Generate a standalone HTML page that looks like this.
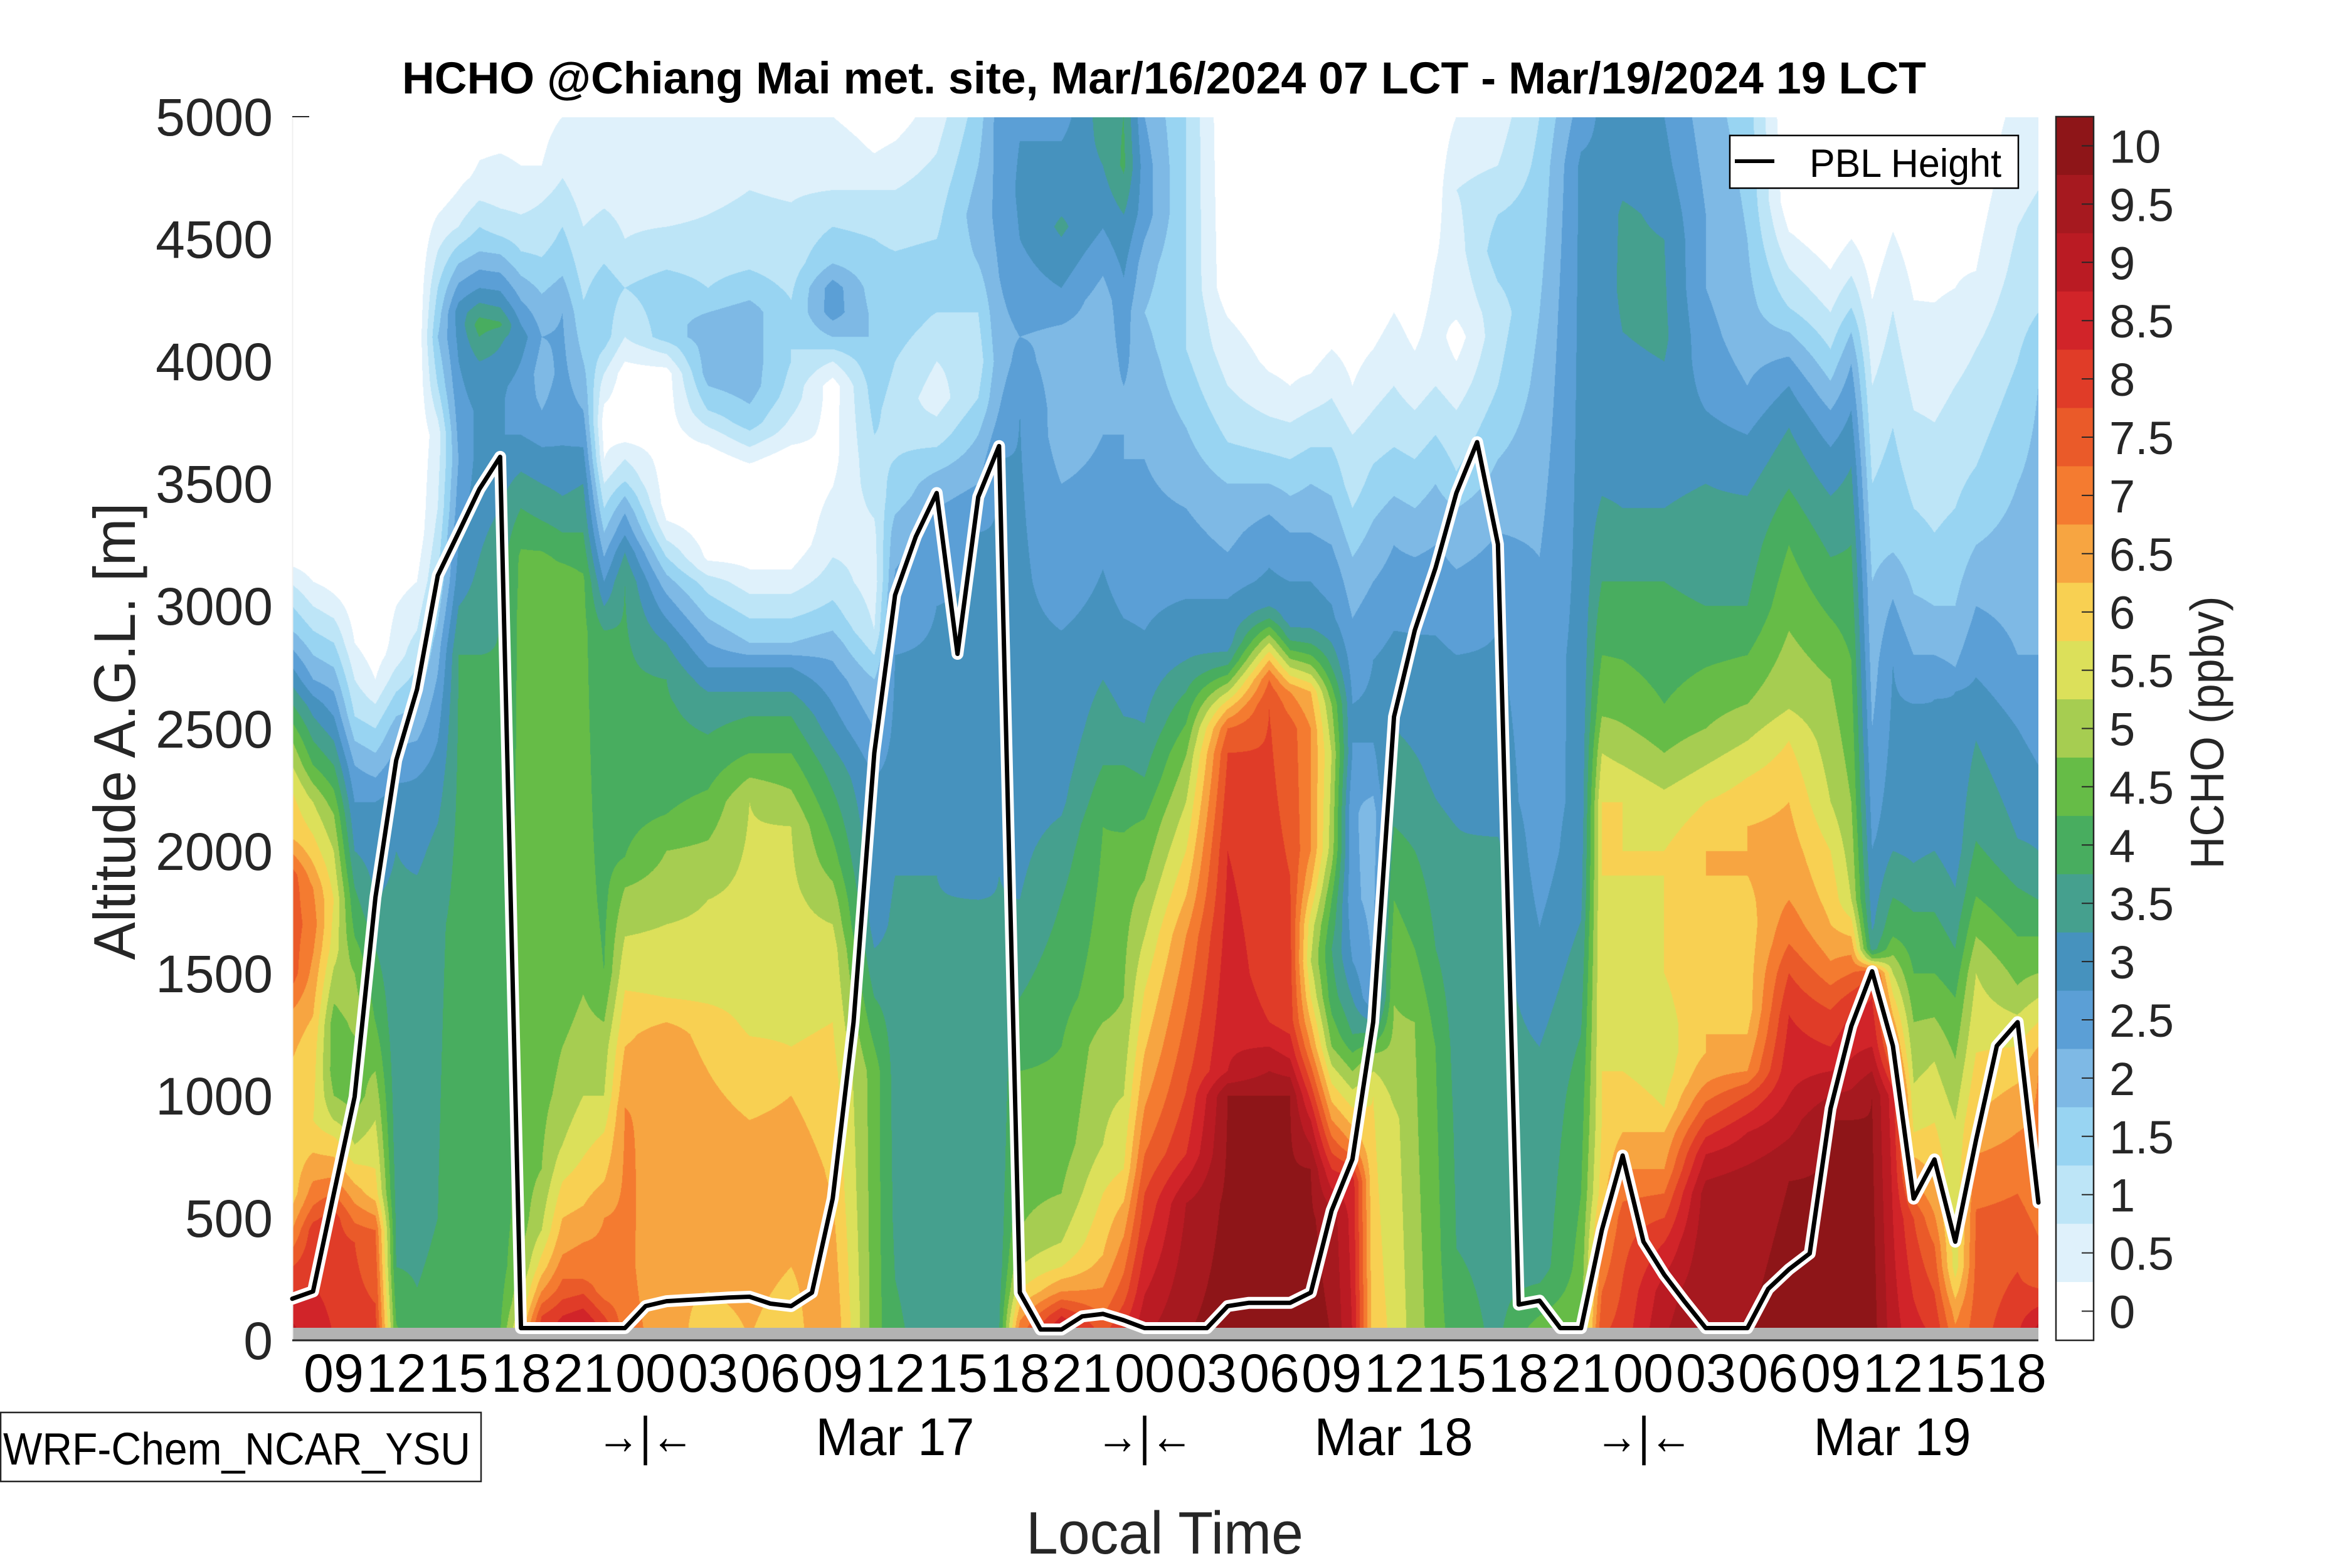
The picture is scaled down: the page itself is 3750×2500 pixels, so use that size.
<!DOCTYPE html>
<html>
<head>
<meta charset="utf-8">
<style>
html,body{margin:0;padding:0;background:#fff;}
#wrap{position:relative;width:3750px;height:2500px;overflow:hidden;background:#fff;}
#cv{position:absolute;left:466px;top:187px;width:2784px;height:1930px;}
#ov{position:absolute;left:0;top:0;}
text{font-family:"Liberation Sans",Arial,sans-serif;}
</style>
</head>
<body>
<div id="wrap">
<canvas id="cv" width="2784" height="1930"></canvas>
<svg id="ov" width="3750" height="2500" viewBox="0 0 3750 2500" xmlns="http://www.w3.org/2000/svg">
  <rect x="466" y="2117" width="2784" height="20" fill="#b3b3b3"/>
  <line x1="466.5" y1="187" x2="466.5" y2="2137" stroke="#f0f0f0" stroke-width="2"/>
  <line x1="466" y1="2137" x2="3250" y2="2137" stroke="#262626" stroke-width="3"/>
  <line x1="466" y1="186" x2="493" y2="186" stroke="#262626" stroke-width="2"/>

  <polyline id="pblw" fill="none" stroke="#ffffff" stroke-width="19" stroke-linejoin="round" stroke-linecap="round" points=""/>
  <polyline id="pblb" fill="none" stroke="#000000" stroke-width="7" stroke-linejoin="round" stroke-linecap="round" points=""/>

  <text x="1856" y="149" font-size="71" font-weight="bold" text-anchor="middle" fill="#000" textLength="2430" lengthAdjust="spacingAndGlyphs">HCHO @Chiang Mai met. site, Mar/16/2024 07 LCT - Mar/19/2024 19 LCT</text>

  <g font-size="84" fill="#262626" text-anchor="end">
    <text x="435" y="2167">0</text>
    <text x="435" y="1972">500</text>
    <text x="435" y="1777">1000</text>
    <text x="435" y="1582">1500</text>
    <text x="435" y="1387">2000</text>
    <text x="435" y="1192">2500</text>
    <text x="435" y="996">3000</text>
    <text x="435" y="801">3500</text>
    <text x="435" y="606">4000</text>
    <text x="435" y="411">4500</text>
    <text x="435" y="216">5000</text>
  </g>

  <text transform="translate(215,1166) rotate(-90)" x="0" y="0" font-size="94" fill="#262626" text-anchor="middle" textLength="729" lengthAdjust="spacingAndGlyphs">Altitude A.G.L. [m]</text>

  <g font-size="86" fill="#000" text-anchor="middle">
    <text x="532" y="2219" textLength="96" lengthAdjust="spacingAndGlyphs">09</text>
    <text x="632" y="2219" textLength="96" lengthAdjust="spacingAndGlyphs">12</text>
    <text x="731" y="2219" textLength="96" lengthAdjust="spacingAndGlyphs">15</text>
    <text x="831" y="2219" textLength="96" lengthAdjust="spacingAndGlyphs">18</text>
    <text x="930" y="2219" textLength="96" lengthAdjust="spacingAndGlyphs">21</text>
    <text x="1029" y="2219" textLength="96" lengthAdjust="spacingAndGlyphs">00</text>
    <text x="1129" y="2219" textLength="96" lengthAdjust="spacingAndGlyphs">03</text>
    <text x="1228" y="2219" textLength="96" lengthAdjust="spacingAndGlyphs">06</text>
    <text x="1328" y="2219" textLength="96" lengthAdjust="spacingAndGlyphs">09</text>
    <text x="1427" y="2219" textLength="96" lengthAdjust="spacingAndGlyphs">12</text>
    <text x="1527" y="2219" textLength="96" lengthAdjust="spacingAndGlyphs">15</text>
    <text x="1626" y="2219" textLength="96" lengthAdjust="spacingAndGlyphs">18</text>
    <text x="1725" y="2219" textLength="96" lengthAdjust="spacingAndGlyphs">21</text>
    <text x="1825" y="2219" textLength="96" lengthAdjust="spacingAndGlyphs">00</text>
    <text x="1924" y="2219" textLength="96" lengthAdjust="spacingAndGlyphs">03</text>
    <text x="2024" y="2219" textLength="96" lengthAdjust="spacingAndGlyphs">06</text>
    <text x="2123" y="2219" textLength="96" lengthAdjust="spacingAndGlyphs">09</text>
    <text x="2223" y="2219" textLength="96" lengthAdjust="spacingAndGlyphs">12</text>
    <text x="2322" y="2219" textLength="96" lengthAdjust="spacingAndGlyphs">15</text>
    <text x="2421" y="2219" textLength="96" lengthAdjust="spacingAndGlyphs">18</text>
    <text x="2521" y="2219" textLength="96" lengthAdjust="spacingAndGlyphs">21</text>
    <text x="2620" y="2219" textLength="96" lengthAdjust="spacingAndGlyphs">00</text>
    <text x="2720" y="2219" textLength="96" lengthAdjust="spacingAndGlyphs">03</text>
    <text x="2819" y="2219" textLength="96" lengthAdjust="spacingAndGlyphs">06</text>
    <text x="2919" y="2219" textLength="96" lengthAdjust="spacingAndGlyphs">09</text>
    <text x="3018" y="2219" textLength="96" lengthAdjust="spacingAndGlyphs">12</text>
    <text x="3117" y="2219" textLength="96" lengthAdjust="spacingAndGlyphs">15</text>
    <text x="3215" y="2219" textLength="96" lengthAdjust="spacingAndGlyphs">18</text>
  </g>

  <g font-size="84" fill="#000" text-anchor="middle">
    <text x="1029" y="2318" textLength="155" lengthAdjust="spacingAndGlyphs">→|←</text>
    <text x="1427" y="2320" textLength="253" lengthAdjust="spacingAndGlyphs">Mar 17</text>
    <text x="1825" y="2318" textLength="155" lengthAdjust="spacingAndGlyphs">→|←</text>
    <text x="2222" y="2320" textLength="253" lengthAdjust="spacingAndGlyphs">Mar 18</text>
    <text x="2621" y="2318" textLength="155" lengthAdjust="spacingAndGlyphs">→|←</text>
    <text x="3017" y="2320" textLength="251" lengthAdjust="spacingAndGlyphs">Mar 19</text>
  </g>

  <text x="1857" y="2477" font-size="96" fill="#262626" text-anchor="middle" textLength="442" lengthAdjust="spacingAndGlyphs">Local Time</text>

  <rect x="1" y="2252" width="766" height="110" fill="#fff" stroke="#262626" stroke-width="2.5"/>
  <text x="5" y="2335" font-size="72" fill="#000" textLength="745" lengthAdjust="spacingAndGlyphs">WRF-Chem_NCAR_YSU</text>

  <rect x="2758" y="216" width="460" height="84" fill="#fff" stroke="#000" stroke-width="2.5"/>
  <line x1="2766" y1="257" x2="2829" y2="257" stroke="#000" stroke-width="6"/>
  <text x="2885" y="282" font-size="63" fill="#000" textLength="306" lengthAdjust="spacingAndGlyphs">PBL Height</text>

  <g>
    <rect x="3278" y="186.0" width="60" height="93.3" fill="#8E1518"/>
    <rect x="3278" y="278.9" width="60" height="93.3" fill="#A6191F"/>
    <rect x="3278" y="371.8" width="60" height="93.3" fill="#BA1B23"/>
    <rect x="3278" y="464.7" width="60" height="93.3" fill="#D12429"/>
    <rect x="3278" y="557.6" width="60" height="93.3" fill="#E03C28"/>
    <rect x="3278" y="650.5" width="60" height="93.3" fill="#EA5A29"/>
    <rect x="3278" y="743.4" width="60" height="93.3" fill="#F47B30"/>
    <rect x="3278" y="836.3" width="60" height="93.3" fill="#F7A541"/>
    <rect x="3278" y="929.2" width="60" height="93.3" fill="#F8D052"/>
    <rect x="3278" y="1022.1" width="60" height="93.3" fill="#DCE05A"/>
    <rect x="3278" y="1115.0" width="60" height="93.3" fill="#A6CD51"/>
    <rect x="3278" y="1207.9" width="60" height="93.3" fill="#66BC47"/>
    <rect x="3278" y="1300.9" width="60" height="93.3" fill="#48AD5F"/>
    <rect x="3278" y="1393.8" width="60" height="93.3" fill="#45A08E"/>
    <rect x="3278" y="1486.7" width="60" height="93.3" fill="#4692BE"/>
    <rect x="3278" y="1579.6" width="60" height="93.3" fill="#5B9FD6"/>
    <rect x="3278" y="1672.5" width="60" height="93.3" fill="#7EB9E5"/>
    <rect x="3278" y="1765.4" width="60" height="93.3" fill="#98D4F2"/>
    <rect x="3278" y="1858.3" width="60" height="93.3" fill="#BDE5F7"/>
    <rect x="3278" y="1951.2" width="60" height="93.3" fill="#DFF1FB"/>
    <rect x="3278" y="2044.1" width="60" height="92.9" fill="#FFFFFF"/>
    <rect x="3278" y="186" width="60" height="1951" fill="none" stroke="#262626" stroke-width="2.5"/>
    <g stroke="#262626" stroke-width="2">
      <line x1="3319" y1="232.5" x2="3338" y2="232.5"/>
      <line x1="3319" y1="325.4" x2="3338" y2="325.4"/>
      <line x1="3319" y1="418.3" x2="3338" y2="418.3"/>
      <line x1="3319" y1="511.2" x2="3338" y2="511.2"/>
      <line x1="3319" y1="604.1" x2="3338" y2="604.1"/>
      <line x1="3319" y1="697.0" x2="3338" y2="697.0"/>
      <line x1="3319" y1="789.9" x2="3338" y2="789.9"/>
      <line x1="3319" y1="882.8" x2="3338" y2="882.8"/>
      <line x1="3319" y1="975.7" x2="3338" y2="975.7"/>
      <line x1="3319" y1="1068.6" x2="3338" y2="1068.6"/>
      <line x1="3319" y1="1161.5" x2="3338" y2="1161.5"/>
      <line x1="3319" y1="1254.4" x2="3338" y2="1254.4"/>
      <line x1="3319" y1="1347.3" x2="3338" y2="1347.3"/>
      <line x1="3319" y1="1440.2" x2="3338" y2="1440.2"/>
      <line x1="3319" y1="1533.1" x2="3338" y2="1533.1"/>
      <line x1="3319" y1="1626.0" x2="3338" y2="1626.0"/>
      <line x1="3319" y1="1718.9" x2="3338" y2="1718.9"/>
      <line x1="3319" y1="1811.8" x2="3338" y2="1811.8"/>
      <line x1="3319" y1="1904.7" x2="3338" y2="1904.7"/>
      <line x1="3319" y1="1997.6" x2="3338" y2="1997.6"/>
      <line x1="3319" y1="2090.5" x2="3338" y2="2090.5"/>
    </g>
    <g font-size="74" fill="#262626">
      <text x="3363" y="259.5">10</text>
      <text x="3363" y="352.4">9.5</text>
      <text x="3363" y="445.3">9</text>
      <text x="3363" y="538.2">8.5</text>
      <text x="3363" y="631.1">8</text>
      <text x="3363" y="724.0">7.5</text>
      <text x="3363" y="816.9">7</text>
      <text x="3363" y="909.8">6.5</text>
      <text x="3363" y="1002.7">6</text>
      <text x="3363" y="1095.6">5.5</text>
      <text x="3363" y="1188.5">5</text>
      <text x="3363" y="1281.4">4.5</text>
      <text x="3363" y="1374.3">4</text>
      <text x="3363" y="1467.2">3.5</text>
      <text x="3363" y="1560.1">3</text>
      <text x="3363" y="1653.0">2.5</text>
      <text x="3363" y="1745.9">2</text>
      <text x="3363" y="1838.8">1.5</text>
      <text x="3363" y="1931.7">1</text>
      <text x="3363" y="2024.6">0.5</text>
      <text x="3363" y="2117.5">0</text>
    </g>
  </g>
  <text transform="translate(3545,1168) rotate(-90)" x="0" y="0" font-size="75" fill="#262626" text-anchor="middle" textLength="435" lengthAdjust="spacingAndGlyphs">HCHO (ppbv)</text>
</svg>
</div>
<script>
(function(){
var PR={
0:[[0,18.5],[150,17.5],[300,16],[450,14],[600,12.5],[1000,12.5],[1300,13.5],[1500,15.5],[1900,15.5],[2050,13],[2250,12],[2450,10],[2600,8],[2750,6],[2900,4],[3050,2.5],[3200,0.5],[5000,0]],
1:[[0,17.5],[450,16.5],[550,15],[700,13.5],[900,12],[1200,12.5],[1450,13.5],[1700,14.5],[1850,14],[2000,12.5],[2200,11],[2350,9],[2500,7.5],[2600,6.5],[2700,5],[2800,4],[2900,3],[3000,2],[3100,1],[3200,0.3],[5000,0]],
2:[[0,17],[500,16.5],[600,15],[700,13.5],[800,12.5],[900,11],[1000,10],[1100,9.5],[1300,9.5],[1450,10.5],[1600,11.5],[1800,12],[2000,11],[2150,10],[2250,9],[2350,8],[2450,7],[2550,6],[2650,5],[2750,4],[2850,3],[2950,2],[3050,1],[3150,0.3],[5000,0]],
3:[[0,16.5],[400,16],[600,13.5],[800,11],[1000,9.5],[1200,9.8],[1350,10.5],[1500,10],[1650,9],[1850,8],[2000,7],[2200,6],[2350,5],[2450,4],[2550,3],[2700,2],[2850,1],[3050,0.3],[5000,0]],
4:[[0,16.5],[450,15],[600,12.5],[900,11],[1100,10],[1300,9],[1600,8],[1800,7],[2000,6.5],[2200,6],[2300,5],[2400,4],[2500,3],[2600,2],[2700,1],[2850,0.3],[5000,0]],
5:[[0,9.3],[300,8],[800,7.5],[1800,7.2],[2000,7],[2200,6.5],[2350,5.5],[2500,4.5],[2600,3.5],[2700,2.5],[2800,1.5],[3000,1],[3200,0.3],[5000,0]],
6:[[0,8.3],[500,7.6],[1500,7.5],[1900,7],[2100,6.5],[2300,6],[2450,5],[2600,4],[2750,3],[2900,2],[3100,1],[3300,0.3],[5000,0]],
7:[[0,8.6],[500,8],[1700,7.8],[2000,7.3],[2300,6.5],[2600,5.5],[2850,4.5],[3100,3],[3400,2],[3700,1.5],[3900,3],[4100,4],[4300,3],[4450,2],[4600,1],[4700,0.3],[5000,0]],
8:[[0,8.8],[2800,8],[3100,6.5],[3400,5.5],[3600,5],[3800,5.5],[4000,6],[4200,6.5],[4400,4],[4550,2],[4700,1],[4850,0.3],[5000,0]],
9:[[0,9],[300,8.5],[2800,8],[3200,7],[3500,6.5],[3800,6.2],[4000,7],[4150,8.5],[4300,6],[4450,4],[4600,2.5],[4750,1.2],[5000,0.5]],
10:[[0,9],[300,8.5],[3000,8],[3400,7],[3700,6],[3900,6.2],[4100,7.2],[4150,8.2],[4250,6.5],[4400,4.5],[4550,2.5],[4700,1.5],[4850,1],[5000,0.5]],
11:[[0,13],[150,11],[300,10],[500,9.5],[3200,9.2],[3400,8],[3550,7],[3700,6],[3850,5.5],[4000,6],[4100,6.5],[4200,5.5],[4300,4.5],[4450,3],[4600,2],[4800,1],[5000,0.5]],
12:[[0,17],[100,16],[200,14],[300,12.5],[450,11],[700,10],[1100,9.6],[3200,9.2],[3350,8],[3500,7],[3650,6],[3800,5],[3950,4.5],[4100,5],[4200,4.5],[4350,3.5],[4500,2.5],[4650,2],[4800,1],[5000,0.5]],
13:[[0,18],[100,17],[200,15.5],[350,14],[500,13],[650,12],[800,11],[1000,10.3],[1200,10],[1400,9.5],[3150,9.2],[3300,8],[3450,7],[3600,6.2],[3800,5.5],[4200,5],[4350,4],[4550,3],[4750,2],[4900,1.5],[5000,1]],
14:[[0,19],[100,17.5],[250,15],[400,14],[550,13],[750,12],[1000,11],[1200,10.5],[1500,9.8],[1800,9.5],[3100,9.2],[3300,8],[3500,7],[3650,6],[3800,5],[4000,4],[4250,3],[4550,2],[4850,1],[5000,1]],
15:[[0,17.5],[100,16],[200,14.5],[500,14],[650,13],[850,12],[1000,11],[1200,10.5],[1300,10],[1500,9],[2100,8.5],[2900,8],[3000,7],[3100,6],[3200,5],[3300,4],[3400,3],[3500,2],[3600,1],[3750,0.5],[3900,1.5],[4100,3.5],[4300,3.5],[4500,2.5],[4750,1.5],[5000,1]],
16:[[0,14.5],[950,14],[1200,13],[1430,12],[1650,11],[1850,10],[1975,9],[2200,8.5],[3100,8],[3220,7],[3290,6],[3380,5],[3450,4],[3510,3],[3600,2],[3670,1],[3750,0.5],[3950,0.5],[4100,2],[4300,3],[4500,2],[4750,1.5],[5000,1]],
18:[[0,13.5],[300,13],[600,13.5],[1000,14],[1250,13.5],[1400,12],[1700,11],[2000,10],[2150,9],[2300,8.5],[2700,8],[2850,7],[2950,6],[3050,5],[3130,4],[3200,3],[3270,2],[3350,1],[3420,0.5],[3950,0.5],[4000,1.5],[4060,2.5],[4100,3.5],[4300,3.5],[4450,2.5],[4650,1.5],[5000,1]],
20:[[0,12.5],[200,13],[500,13.5],[800,13.5],[1100,13],[1300,12.5],[1450,11.5],[1800,11],[2000,10.2],[2150,9.5],[2350,8.5],[2600,7.5],[2700,6.5],[2800,5.5],[2900,4.5],[3000,3.5],[3100,2.5],[3150,1.5],[3200,0.8],[3350,0.3],[3600,0.3],[3700,1.5],[3800,3],[3950,4.5],[4150,4.5],[4300,3],[4450,2.5],[4600,2],[4800,1.5],[5000,1]],
22:[[0,13],[500,13.5],[900,13],[1100,12.5],[1300,11.8],[1500,11.5],[2200,11],[2300,10],[2400,9],[2550,8],[2650,7],[2750,6],[2800,5],[2850,4],[2950,3],[3050,2],[3150,1],[3250,0.5],[3550,0.5],[3650,2],[3750,3.5],[3900,4.5],[4200,4.5],[4300,3.5],[4450,2.5],[4700,2],[5000,1]],
24:[[0,12.5],[300,13],[700,13.5],[1000,13],[1200,12],[1500,11.5],[2100,11],[2250,10],[2400,9],[2550,8],[2650,7],[2750,6],[2800,5],[2850,4],[2950,3],[3050,2],[3150,1],[3250,0.3],[3600,0.3],[3700,1.5],[3850,2.5],[4000,3],[4250,3],[4400,2.5],[4650,2],[4850,1.5],[5000,1]],
26:[[0,14],[300,13.5],[600,13],[1000,12.5],[1300,12],[1600,11.5],[1800,10.5],[1950,9.5],[2150,8.5],[2350,7.5],[2500,6.5],[2700,5.5],[2850,4.5],[2950,3.5],[3100,2.5],[3300,1.5],[3600,0.7],[3900,0.5],[4000,2],[4100,4],[4200,5.5],[4300,5.5],[4400,4],[4550,3],[4700,2],[4900,1.5],[5000,1]],
28:[[0,9.5],[1100,9.5],[1300,8.5],[1500,7.5],[1700,6.5],[2300,6],[2500,5],[2700,4],[2800,3],[2900,2],[3100,1.5],[3300,1.8],[3500,2.5],[3700,3],[3900,3.5],[4100,4],[4300,3.5],[4500,3],[4700,2],[4850,1],[5000,0.3]],
29:[[0,8.2],[500,7.8],[1500,7.5],[1900,7],[2100,6.5],[2800,6],[3000,5.5],[3150,5],[3300,4.5],[3450,3.5],[3600,3],[3800,2.5],[4000,3],[4150,3.5],[4300,3.5],[4450,3],[4600,2.5],[4800,1.5],[5000,0.5]],
31:[[0,7.5],[1900,7],[2000,6.5],[3000,6],[3300,5.5],[3500,4.5],[3600,3.5],[3700,2.5],[3850,1.5],[4000,2],[4200,3],[4350,3.5],[4500,3],[4700,2.5],[4850,2],[5000,1.5]],
33:[[0,7.5],[1800,7],[2000,6.5],[3300,6],[3500,5],[3700,4],[3850,3],[4000,2.5],[4200,3],[4400,4],[4600,4.5],[4800,4],[5000,3.5]],
34:[[0,8],[300,7.5],[1900,7],[2100,6.5],[3600,6],[3800,5],[4000,4.5],[4200,4.8],[4500,5.2],[5000,5.5]],
35:[[0,15],[80,14],[200,12],[300,11],[450,10],[700,9.5],[1100,9],[1400,8],[1800,7],[2200,6.5],[3800,6],[4100,5],[4300,5.5],[4500,6],[4700,6.2],[4900,6],[5000,5.5]],
37:[[0,19],[100,17],[200,14],[300,12],[400,11],[600,10],[800,9.5],[1200,9],[1500,8.5],[1800,8],[2000,7.5],[2200,6.8],[2500,6.3],[2900,6],[3100,5.5],[3500,5],[3700,4.5],[4000,4.5],[4150,5],[4300,6],[4550,7.2],[4700,6.5],[4900,6],[5000,5.5]],
39:[[0,16],[150,14.5],[350,13],[600,12],[800,11],[1200,10.5],[1400,9.5],[2100,9],[2350,8],[2700,7],[2800,6.5],[3150,6],[3300,5.5],[3700,5],[4000,4.5],[4250,4.5],[4450,5.5],[4600,6.3],[4800,7],[5000,7.5]],
40:[[0,17.5],[200,15.5],[500,13.5],[700,12],[1000,11],[1400,10],[1900,9.5],[2250,8.5],[2550,7],[2850,6.2],[3200,5.5],[3600,5],[3900,5],[4200,5.5],[4400,6.2],[4600,7],[4800,8.2],[5000,8]],
41:[[0,19],[375,17],[600,16],[760,15],[950,14],[1175,13],[1430,12],[1650,11],[1880,10],[2130,9],[2300,8],[2520,7],[2900,6],[3200,5.5],[3600,5],[4000,4.5],[4200,4],[4400,4.5],[4600,5.5],[4800,5.5],[5000,5]],
43:[[0,20],[560,19],[760,17],[1015,16],[1335,15],[1655,14],[1815,13],[2000,12],[2200,11],[2390,10],[2520,9],[2650,8],[2780,7],[3030,6],[3400,5],[3730,4],[4050,3],[5000,3]],
45:[[0,20.5],[1000,20],[1100,18],[2000,17],[2400,16],[2500,15],[2580,13],[2650,11],[2720,9],[2780,7.5],[2850,6.5],[3030,6],[3220,5],[3500,4],[3670,3],[3900,2],[4180,1],[4300,0.3],[5000,0]],
47:[[0,20.5],[1000,20],[1150,18.5],[1300,17],[1500,16.5],[2600,16],[2700,15],[2780,13],[2850,11],[2900,9.5],[2950,8],[3000,7],[3100,6.2],[3300,5.5],[3450,4.5],[3550,3.5],[3700,2.5],[3850,1.5],[4000,0.8],[4200,0.3],[5000,0]],
48:[[0,20.5],[1000,20],[1150,18],[1300,16.5],[2500,15.5],[2650,14],[2750,11],[2820,9],[2880,7.5],[2950,6.5],[3100,6],[3300,5],[3450,4],[3600,3],[3750,2],[3900,1],[4100,0.3],[5000,0]],
49:[[0,20.5],[700,20],[900,18],[1050,16],[1200,14],[1400,12],[1550,11],[1700,11.5],[1850,13],[2000,14],[2500,14],[2650,13],[2720,11],[2800,9],[2870,7.5],[2950,6.5],[3100,6],[3300,5],[3500,4],[3650,3],[3800,2],[3950,1],[4100,0.3],[5000,0]],
50:[[0,20],[500,19.5],[700,17],[900,14],[1050,12],[1200,10],[1400,8.5],[1600,8],[1800,9],[2000,10.5],[2400,11],[2600,10],[2750,8],[2850,7],[2950,6.2],[3150,5.5],[3350,4.5],[3550,3.5],[3750,2.5],[3950,1.5],[4150,0.5],[5000,0]],
51:[[0,18],[650,17.5],[800,14],[950,12],[1100,10],[1250,8],[1400,7],[1550,6],[1800,5.2],[2200,5.2],[2400,6],[2600,6],[2800,5.5],[3100,4.5],[3300,3.5],[3500,2.5],[3700,2],[3900,1],[4100,0.5],[4300,0.3],[5000,0]],
52:[[0,12.5],[1000,12],[1150,10.5],[1300,7],[1400,5],[2150,4.5],[2300,5.5],[2500,6.2],[2780,6],[3100,5],[3350,4],[3580,3],[3800,2],[4050,1],[4250,0.3],[5000,0]],
53:[[0,11.8],[900,11.3],[1050,10.5],[1500,9.8],[1800,9],[2100,8],[2500,7],[2900,6],[3250,5],[3450,4],[3650,3],[3900,2],[4200,1],[4400,0.3],[5000,0]],
54:[[0,10.5],[1300,10],[1600,9],[2000,8],[2400,7],[2800,6.2],[3100,5.5],[3300,4.5],[3500,3.5],[3700,2.5],[3900,1.5],[4100,0.8],[4300,0.3],[5000,0.2]],
55:[[0,9.5],[1200,9],[1600,8],[2000,7.5],[2300,6.8],[2800,6.2],[3200,5.2],[3500,4],[3700,3],[3900,2],[4100,1.5],[4400,1],[4700,0.5],[5000,0.3]],
56:[[0,8.5],[375,8],[900,7.8],[2100,7],[2300,6.5],[2800,6],[3150,5],[3400,4],[3550,3],[3800,2],[4000,1],[4100,0.5],[4200,1.2],[4400,1.5],[4700,2],[5000,1]],
58:[[0,7.8],[2000,7.2],[2200,6.5],[2900,6],[3300,5],[3600,4],[3900,3],[4200,2.5],[4450,3.5],[4600,3],[4800,2],[5000,1.5]],
60:[[0,10],[100,9],[300,7.5],[1200,7],[1500,6.3],[2000,5.5],[2800,5.5],[3200,5],[3700,4.5],[4200,4],[4600,3.5],[5000,3]],
62:[[0,10],[200,9.5],[600,9],[1000,8.5],[1500,7.5],[1800,6.8],[2200,6.3],[4800,6.2],[5000,5.5]],
63:[[0,16],[400,14],[600,12.5],[900,12],[2200,12],[2400,11],[2550,10],[2800,9],[3100,8],[3450,7],[3700,6.3],[5000,6.2]],
64:[[0,16.5],[500,15.5],[700,14],[850,13],[1100,12],[1500,11.5],[1900,12],[2200,12],[2350,11],[2520,10],[2780,9],[3100,8],[3400,7],[3650,6.5],[4000,6.8],[4300,7.3],[4600,7.2],[4800,6.5],[5000,6]],
66:[[0,19],[200,18.5],[400,17],[550,15.5],[700,14],[850,13],[950,12],[1100,11.5],[1300,11.5],[1500,12],[2000,12],[2250,11],[2400,10],[2600,9],[2800,8.5],[3100,8],[3400,7],[3700,6.5],[3900,6.8],[4100,7.2],[4500,7],[4800,6.3],[5000,6]],
68:[[0,20],[600,19.5],[760,18],[900,16],[1050,14],[1175,13],[2000,13],[2200,12],[2350,11],[2500,10],[2750,9],[3000,8],[3500,7],[3800,6],[4000,5.5],[4300,5],[4600,5],[5000,4.5]],
70:[[0,20],[650,19.5],[850,18],[1000,16],[1100,14],[1250,13],[1350,12.5],[1700,12.5],[1900,13],[2100,13],[2300,12],[2450,11],[2600,10],[2800,9],[3000,8],[3450,7],[3700,6],[3900,5],[4100,4.5],[4500,4],[5000,3.5]],
72:[[0,20.5],[650,20],[1000,18],[1330,17],[1500,16],[1620,15],[1800,14],[2200,13],[2450,12],[2580,11],[2900,10],[3250,9],[3480,8],[3730,7],[3900,6],[4020,5],[4120,4],[4220,3],[4380,2],[4530,1],[4650,0.3],[5000,0]],
74:[[0,20.5],[900,20],[1100,18],[1200,17],[1350,16],[1450,15],[1550,14],[1700,13],[2000,12],[2200,11],[2700,10],[2950,9],[3200,8],[3450,7],[3650,6],[3800,5],[3920,4],[4050,3],[4200,2],[4375,1],[4500,0.3],[5000,0]],
75:[[0,20.5],[900,20],[1150,18],[1350,17],[1500,15],[1650,13],[1800,11],[2200,10],[2780,9],[3250,8],[3570,7],[3800,6],[3990,5],[4120,4],[4220,3],[4350,2],[4500,1],[4650,0.3],[5000,0]],
76:[[0,20.5],[1000,20],[1200,18],[1400,17],[1500,16],[1560,10],[1600,7.5],[1700,6.8],[2000,6],[2500,5],[2800,4.5],[3100,4],[3500,3],[3900,2],[4250,1],[4500,0.3],[5000,0.2]],
77:[[0,18.5],[1000,17.5],[1150,15],[1330,13],[1500,11],[1650,9],[1810,8],[2000,7],[2050,6.5],[2770,6],[3030,5],[3220,4],[3730,3],[4210,2],[4530,1],[4700,0.3],[5000,0]],
78:[[0,17.5],[500,16],[650,14],[850,12],[1050,11],[1300,10],[1500,9],[1750,8],[1950,7],[2100,6.5],[2600,6],[2800,5],[3050,4],[3400,3],[3800,2],[4250,1],[4500,0.5],[5000,0.3]],
79:[[0,17],[390,15],[640,13],[890,12],[1140,11],[1500,9],[1750,8],[2000,7],[2300,6.2],[2620,6],[2800,5],[3000,4],[3300,3],[3750,2],[4240,1],[4500,0.5],[5000,0.3]],
80:[[0,14.5],[130,13.5],[210,12.5],[300,11.5],[900,11],[1150,10],[1400,9],[1600,8],[1850,7],[2000,6.5],[2650,6],[2750,5],[3000,4],[3400,3],[3900,2],[4300,1],[4700,0.5],[5000,0.5]],
81:[[0,15.5],[535,15],[760,14],[920,13],[1175,12],[1500,11],[1650,10],[1815,9],[2040,8],[2450,7],[2710,6],[3000,5],[3250,4],[3570,3],[4050,2],[4370,1],[4700,0.5],[5000,0.5]],
83:[[0,17],[280,16],[600,15],[850,14],[1050,13],[1200,12],[1330,11],[1450,10],[1650,9],[1850,8],[2050,7],[2500,6],[2800,5],[3500,4],[4000,3],[4550,2],[5000,1.2]],
84:[[0,19],[100,17.5],[250,15.5],[600,14.5],[1100,14],[1200,13],[1300,12],[1400,11],[1500,10],[1650,9],[1800,8],[2000,7],[2350,6],[2800,5],[3900,4],[4200,3],[4700,2],[5000,1.5]]
};
var PAL=["#FFFFFF","#DFF1FB","#BDE5F7","#98D4F2","#7EB9E5","#5B9FD6","#4692BE","#45A08E","#48AD5F","#66BC47","#A6CD51","#DCE05A","#F8D052","#F7A541","#F47B30","#EA5A29","#E03C28","#D12429","#BA1B23","#A6191F","#8E1518"];
var RGB=PAL.map(function(c){return [parseInt(c.substr(1,2),16),parseInt(c.substr(3,2),16),parseInt(c.substr(5,2),16)];});
var W=2784,H=1930,X0=466,Y0=187,PXH=2784/84,PXZ=0.3902;
function ev(p,z){
  if(z<=p[0][0])return p[0][1];
  for(var i=1;i<p.length;i++){
    if(z<=p[i][0]){var t=(z-p[i-1][0])/(p[i][0]-p[i-1][0]);return p[i-1][1]+t*(p[i][1]-p[i-1][1]);}
  }
  return p[p.length-1][1];
}
var hs=Object.keys(PR).map(Number).sort(function(a,b){return a-b;});
var A=hs.map(function(h){
  var p=PR[h],a=new Float32Array(H);
  for(var r=0;r<H;r++){var z=(2137-(Y0+r+0.5))/PXZ;a[r]=ev(p,z);}
  return a;
});
try{
  var cv=document.getElementById('cv');
  var ctx=cv.getContext('2d');
  var img=ctx.createImageData(W,H);
  var d=img.data;
  var j=0;
  for(var c=0;c<W;c++){
    var h=(c+0.5)/PXH;
    while(j<hs.length-2&&h>hs[j+1])j++;
    var h0=hs[j],h1=hs[j+1];
    var t=(h-h0)/(h1-h0); if(t<0)t=0; if(t>1)t=1;
    var a0=A[j],a1=A[j+1];
    for(var r=0;r<H;r++){
      var b=a0[r]*(1-t)+a1[r]*t;
      var k=Math.floor(b); if(k<0)k=0; if(k>20)k=20;
      var col=RGB[k];
      var idx=(r*W+c)*4;
      d[idx]=col[0];d[idx+1]=col[1];d[idx+2]=col[2];d[idx+3]=255;
    }
  }
  ctx.putImageData(img,0,0);
}catch(e){}
var PBL=[170,200,600,995,1810,2370,2660,3125,3300,3478,3610,50,50,50,50,50,50,140,160,165,170,175,178,150,140,195,580,1300,2400,3045,3285,3462,2805,3446,3654,195,44,44,98,108,82,50,50,50,50,140,153,153,153,195,530,740,1300,2548,2901,3157,3462,3670,3253,146,162,50,50,451,755,403,268,156,50,50,50,210,290,355,947,1284,1508,1203,579,739,403,819,1203,1300,563];
var pts=PBL.map(function(z,i){return (X0+i*PXH).toFixed(1)+","+(2137-z*PXZ).toFixed(1);}).join(" ");
document.getElementById('pblw').setAttribute('points',pts);
document.getElementById('pblb').setAttribute('points',pts);
})();
</script>
</body>
</html>
